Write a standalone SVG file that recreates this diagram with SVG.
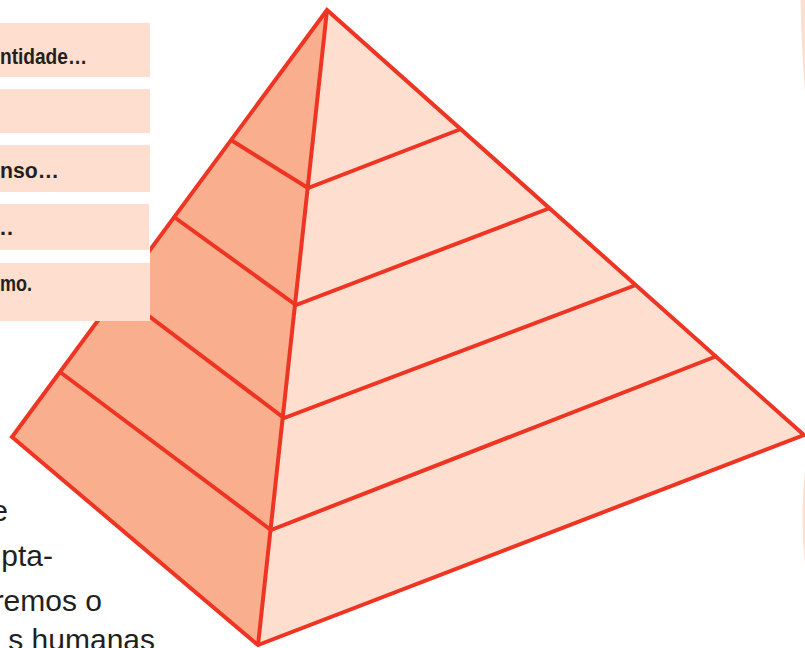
<svg xmlns="http://www.w3.org/2000/svg" width="805" height="648" viewBox="0 0 805 648">
<style>
.edge{stroke:#EE3524;stroke-width:4;fill:none;stroke-linejoin:miter;stroke-linecap:butt}
.dark{fill:#F9AE8E}
.light{fill:#FDDECF}
.box{fill:#FDDECF}
.lbl{font-family:"Liberation Sans",Arial,sans-serif;font-weight:bold;font-size:22px;fill:#231F20}
.body{font-family:"Liberation Sans",Arial,sans-serif;font-size:30px;fill:#231F20;text-anchor:end}
</style>
<rect width="805" height="648" fill="#FFFFFF"/>
<g id="side-shapes">
<path class="light" d="M805,-5 L800.5,0 Q801.5,50 805,92 Z"/>
<path class="light" d="M805,470 Q800,518 805,565 Z"/>
</g>
<g id="pyramid">
<polygon class="dark" points="327,10 12,437 258,645"/>
<polygon class="light" points="327,10 258,645 804,435"/>
</g>
<g id="connectors">
<path class="edge" d="M231,140 L308,188 L461,129"/>
<path class="edge" d="M174,217 L296,305 L550,208"/>
<path class="edge" d="M121,295 L284,418 L636,285"/>
<path class="edge" d="M60,372 L271,530 L717,356"/>
<path class="edge" d="M327,10 L258,645"/>
<path class="edge" d="M327,10 L12,437 L258,645 L804,435 Z"/>
</g>
<rect x="0" y="0" width="150" height="321" fill="#FFFFFF"/>
<g id="box1"><rect class="box" x="0" y="23" width="150" height="54"/><text class="lbl" x="0" y="64" textLength="87" lengthAdjust="spacingAndGlyphs">ntidade…</text></g>
<g id="box2"><rect class="box" x="0" y="89" width="150" height="44"/></g>
<g id="box3"><rect class="box" x="0" y="145" width="150" height="47"/><text class="lbl" x="0" y="178" textLength="59" lengthAdjust="spacingAndGlyphs">nso…</text></g>
<g id="box4"><rect class="box" x="0" y="204" width="149" height="46"/><text class="lbl" x="14" y="235" text-anchor="end">…</text></g>
<g id="box5"><rect class="box" x="0" y="263" width="150" height="58"/><text class="lbl" x="0" y="291" textLength="32" lengthAdjust="spacingAndGlyphs">mo.</text></g>
<g id="body-text">
<text class="body" x="8" y="521">e</text>
<text class="body" x="53" y="566">pta-</text>
<text class="body" x="102" y="611">remos o</text>
<text class="body" x="155" y="650">s humanas</text>
</g>
</svg>
